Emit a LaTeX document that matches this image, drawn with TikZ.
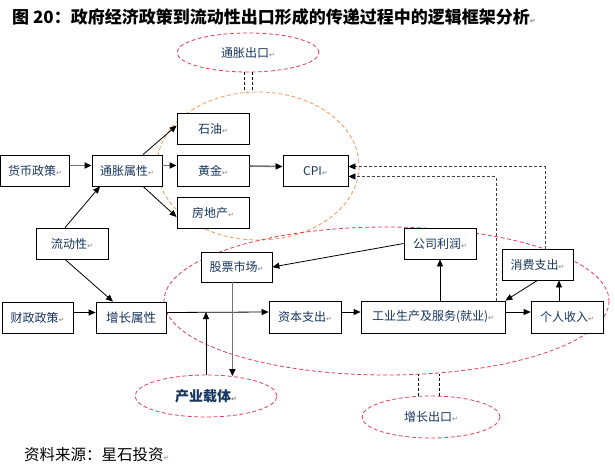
\documentclass[tikz,border=0pt]{standalone}
\usepackage{fontspec}
\setmainfont{Noto Sans CJK SC}
\newfontfamily\djv{DejaVu Sans}
\usetikzlibrary{arrows.meta,shapes.geometric,calc}
\definecolor{navy}{RGB}{23,54,93}
\definecolor{redd}{RGB}{222,64,84}
\definecolor{orng}{RGB}{240,150,90}
\newcommand\pmk{{\djv\fontsize{7}{8}\selectfont\color{gray}↵}}
\begin{document}
\begin{tikzpicture}[x=1pt,y=-1pt,
 box/.style={draw=black,line width=0.8pt,fill=white,minimum height=31pt,inner sep=0pt,text=navy,font=\fontsize{12}{14}\selectfont},
 arr/.style={line width=0.8pt,-{Triangle[length=7pt,width=6pt]}},
 garr/.style={draw=black!55,line width=1.6pt,-{Triangle[length=7pt,width=6pt,color=black]}},
 dsh/.style={draw=black!75,line width=0.8pt,dash pattern=on 3pt off 2pt,-{Triangle[length=7pt,width=6pt,color=black]}},
 dline/.style={draw=black,line width=0.8pt,dash pattern=on 3pt off 2pt},
 rell/.style={draw=redd,line width=0.8pt,dash pattern=on 4pt off 2.5pt},
 oell/.style={draw=orng,line width=0.8pt,dash pattern=on 4pt off 2.5pt},
 elnode/.style={ellipse,rell,fill=white,inner sep=0pt,text=navy,font=\fontsize{12}{14}\selectfont},
]
\useasboundingbox (0,0) rectangle (615,470);
% background ellipses
\draw[oell] (258,166) ellipse [x radius=101, y radius=74];
\draw[rell] (386.5,301) ellipse [x radius=222.5, y radius=74];
% ellipse nodes
\node[elnode,minimum width=142pt,minimum height=39pt] (tc) at (248,52.5) {通胀出口\pmk};
\node[elnode,minimum width=142pt,minimum height=42pt,font=\bfseries\fontsize{14}{16}\selectfont] (cy) at (206,396) {产业载体\pmk};
\node[elnode,minimum width=138pt,minimum height=42pt] (zc) at (431,417) {增长出口\pmk};
% boxes
\node[box,minimum width=69pt] (hb) at (35,170.5) {货币政策\pmk};
\node[box,minimum width=70pt] (tz) at (127,170.5) {通胀属性\pmk};
\node[box,minimum width=72pt] (sy) at (213,128.5) {石油\pmk};
\node[box,minimum width=72pt] (hj) at (213,170.5) {黄金\pmk};
\node[box,minimum width=72pt] (fd) at (213,213) {房地产\pmk};
\node[box,minimum width=65pt] (cpi) at (315.5,171) {CPI\pmk};
\node[box,minimum width=72pt] (ld) at (72,243.5) {流动性\pmk};
\node[box,minimum width=71pt] (cz) at (37.5,317.5) {财政政策\pmk};
\node[box,minimum width=70pt,font=\fontsize{12.5}{14}\selectfont] (zz) at (131,317.5) {增长属性};
\node[box,minimum width=71pt,minimum height=30pt] (gp) at (236.5,267) {股票市场\pmk};
\node[box,minimum width=72pt,minimum height=32pt] (zb) at (305,317) {资本支出\pmk};
\node[box,minimum width=144pt,minimum height=32pt] (gy) at (433,317) {工业生产及服务(就业)\pmk};
\node[box,minimum width=72pt,minimum height=32pt] (gr) at (567,317) {个人收入\pmk};
\node[box,minimum width=71pt] (xf) at (537.5,264.5) {消费支出\pmk};
\node[box,minimum width=72pt] (gs) at (440,243.5) {公司利润\pmk};
% texts
\node[anchor=west,inner sep=0pt,font=\bfseries\fontsize{17}{19}\selectfont] (title) at (12,17) {图 20：政府经济政策到流动性出口形成的传递过程中的逻辑框架分析\pmk};
\node[anchor=west,inner sep=0pt,font=\fontsize{15.5}{17}\selectfont] (src) at (24,455) {资料来源：星石投资\pmk};
% connectors
\draw[garr] ([yshift=5pt]hb.east) -- ([yshift=5pt]tz.west);
\draw[garr] ([yshift=5pt]tz.east) -- ([yshift=5pt]hj.west);
\draw[garr] ([yshift=4.5pt]hj.east) -- ([yshift=4.5pt]cpi.west);
\draw[arr] ([xshift=16pt]tz.north) -- ([yshift=3pt]sy.west);
\draw[arr] ([xshift=16pt]tz.south) -- ([yshift=-4pt]fd.west);
\draw[arr] ([xshift=-7pt]ld.north) -- ([xshift=-27pt]tz.south);
\draw[arr] ([xshift=-7pt]ld.south) -- ([xshift=-18pt]zz.north);
\draw[arr] ([yshift=5pt]cz.east) -- ([yshift=5pt]zz.west);
\coordinate (j) at (207,312);
\draw[arr] ([yshift=5pt]zz.east) -- ([yshift=5pt]zb.west);
\draw[arr] (cy.north) -- (cy.north |- j);
\draw[garr] (gp.south -| cy.37) -- (cy.37);
\draw[arr] ([yshift=5pt]zb.east) -- ([yshift=5pt]gy.west);
\draw[arr] ([yshift=5pt]gy.east) -- ([yshift=5pt]gr.west);
\draw[arr] (gy.north -| gs.south) -- (gs.south);
\draw[arr] (gs.west) -- (gp.east);
\draw[arr] ([xshift=-8pt]gr.north) -- ([xshift=-8pt]gr.north |- xf.south);
\draw[arr] (xf.south) -- (gy.north east);
\draw[dsh] ([xshift=7.5pt]xf.north) |- ([yshift=4.5pt]cpi.east);
\draw[dsh] ([xshift=63pt]gy.north) |- ([yshift=-5.5pt]cpi.east);
\draw[dline] ([xshift=-4pt]tc.south) -- ++(0,20);
\draw[dline] ([xshift=4pt]tc.south) -- ++(0,20);
\draw[dline] ([xshift=-13pt]zc.north) -- ++(0,-22);
\draw[dline] ([xshift=8pt]zc.north) -- ++(0,-22);
\end{tikzpicture}
\end{document}
